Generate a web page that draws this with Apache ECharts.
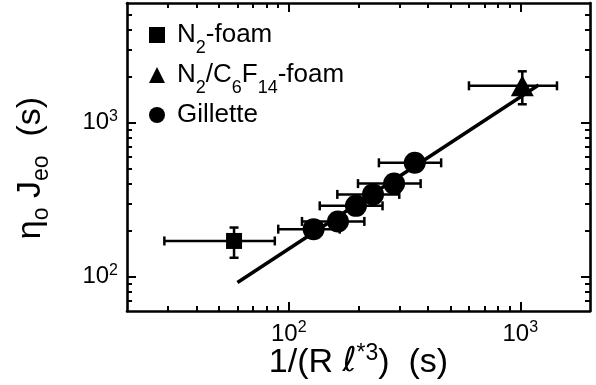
<!DOCTYPE html>
<html>
<head>
<meta charset="utf-8">
<script src="https://cdn.jsdelivr.net/npm/echarts@6/dist/echarts.min.js"></script>
<style>
  html, body { margin: 0; padding: 0; background: #fff; }
  #chart { width: 596px; height: 385px; }
</style>
</head>
<body>
<div id="chart"></div>
<script>
// values
const n2X = [58];
const n2Y = [171];
const n2XErr = [29];
const n2YErr = [38];

const fluoX = [1020];
const fluoY = [1740];
const fluoXErr = [420];
const fluoYErr = [420];

const gilX = [128, 163, 195, 231, 285, 350];
const gilY = [204, 229, 289, 343, 403, 550];
const gilXErr = [38, 49, 59, 69, 86, 105];

// fitted line (slope ~1)
const fitX = [60, 1200];
const fitY = [92, 1760];

// axis ranges and ticks
const xRange = [20, 2000];
const yRange = [60, 6000];
const xMajor = [100, 1000];
const xMinor = [30, 40, 50, 60, 70, 80, 90, 200, 300, 400, 500, 600, 700, 800, 900];
const yMajor = [100, 1000];
const yMinor = [70, 80, 90, 200, 300, 400, 500, 600, 700, 800, 900, 2000, 3000, 4000, 5000];

const FONT = 'Liberation Sans';

function rows(xs, ys, xe, ye) {
  return xs.map((x, i) => [x, ys[i], x - xe[i], x + xe[i],
    ye ? ys[i] - ye[i] : ys[i], ye ? ys[i] + ye[i] : ys[i]]);
}

function renderErrorBar(params, api) {
  const x = api.value(0), y = api.value(1);
  const cap = 4.5;
  const style = { stroke: '#000', lineWidth: 2.5 };
  const l = api.coord([api.value(2), y]);
  const r = api.coord([api.value(3), y]);
  const children = [
    { type: 'line', shape: { x1: l[0], y1: l[1], x2: r[0], y2: r[1] }, style },
    { type: 'line', shape: { x1: l[0], y1: l[1] - cap, x2: l[0], y2: l[1] + cap }, style },
    { type: 'line', shape: { x1: r[0], y1: r[1] - cap, x2: r[0], y2: r[1] + cap }, style }
  ];
  if (api.value(5) > api.value(4)) {
    const b = api.coord([x, api.value(4)]);
    const t = api.coord([x, api.value(5)]);
    children.push(
      { type: 'line', shape: { x1: b[0], y1: b[1], x2: t[0], y2: t[1] }, style },
      { type: 'line', shape: { x1: b[0] - cap, y1: b[1], x2: b[0] + cap, y2: b[1] }, style },
      { type: 'line', shape: { x1: t[0] - cap, y1: t[1], x2: t[0] + cap, y2: t[1] }, style }
    );
  }
  return { type: 'group', children };
}

const supRich = {
  sup: { fontSize: 16, fontFamily: FONT, color: '#000', padding: [0, 0, 13, 0] }
};

function logAxis(range, position, ticks, len, showLine, showLabel) {
  return {
    type: 'log',
    logBase: 10,
    position: position,
    min: range[0],
    max: range[1],
    axisLine: { show: showLine, onZero: false, lineStyle: { color: '#000', width: 2.6 } },
    axisTick: { show: true, inside: true, length: len, customValues: ticks,
      lineStyle: { color: '#000', width: 2 } },
    axisLabel: {
      show: showLabel,
      customValues: ticks,
      margin: 9,
      fontSize: 24,
      fontFamily: FONT,
      color: '#000',
      formatter: v => '10{sup|' + Math.round(Math.log10(v)) + '}',
      rich: supRich
    },
    splitLine: { show: false },
    minorTick: { show: false }
  };
}

const xBottom = logAxis(xRange, 'bottom', xMajor, 9, true, true);
xBottom.name = '1/(R {it|ℓ}{sup|*3})  (s)';
xBottom.nameLocation = 'middle';
xBottom.nameGap = 31;
xBottom.nameMoveOverlap = false;
xBottom.nameTextStyle = {
  fontSize: 34, fontFamily: FONT, color: '#000',
  rich: {
    it: { fontSize: 34, fontFamily: 'DejaVu Sans', fontStyle: 'italic', color: '#000' },
    sup: { fontSize: 23, fontFamily: FONT, color: '#000', padding: [0, 0, 18, 0] }
  }
};

const yLeft = logAxis(yRange, 'left', yMajor, 9, true, true);
yLeft.name = 'η{sub|o} J{sub|eo}  (s)';
yLeft.nameLocation = 'middle';
yLeft.nameGap = 74;
yLeft.nameMoveOverlap = false;
yLeft.nameTextStyle = {
  fontSize: 34, fontFamily: FONT, color: '#000', padding: [0, 22, 0, 0],
  rich: {
    sub: { fontSize: 23, fontFamily: FONT, color: '#000', padding: [22, 0, 0, 0] }
  }
};

const squareIcon = 'path://M0,0H10V10H0Z';
const triIcon = 'path://M5,0L10,10H0Z';

const legendText = {
  fontSize: 26, fontFamily: FONT, color: '#000',
  rich: { s: { fontSize: 18, fontFamily: FONT, color: '#000', padding: [26, 0, 0, 0] } }
};

function legendAt(top, item, fmt) {
  return {
    data: [item], formatter: fmt, top: top, left: 149, padding: 0,
    itemWidth: 30, itemHeight: 16, selectedMode: false, textStyle: legendText
  };
}

const chart = echarts.init(document.getElementById('chart'));
chart.setOption({
  animation: false,
  grid: { left: 127, right: 6, top: 3, bottom: 74, outerBoundsMode: 'none', containLabel: false },
  xAxis: [
    xBottom,
    logAxis(xRange, 'bottom', xMinor, 5, false, false),
    logAxis(xRange, 'top', xMajor, 9, true, false),
    logAxis(xRange, 'top', xMinor, 5, false, false)
  ],
  yAxis: [
    yLeft,
    logAxis(yRange, 'left', yMinor, 5, false, false),
    logAxis(yRange, 'right', yMajor, 9, true, false),
    logAxis(yRange, 'right', yMinor, 5, false, false)
  ],
  legend: [
    legendAt(22, { name: 'N2-foam', icon: squareIcon }, 'N{s|2}-foam'),
    legendAt(62, { name: 'N2/C6F14-foam', icon: triIcon }, 'N{s|2}/C{s|6}F{s|14}-foam'),
    legendAt(102, { name: 'Gillette', icon: 'circle' }, 'Gillette')
  ],
  series: [
    {
      name: 'fit', type: 'line', z: 2, showSymbol: false, silent: true,
      data: fitX.map((x, i) => [x, fitY[i]]),
      lineStyle: { color: '#000', width: 3.5 }
    },
    {
      name: 'err', type: 'custom', z: 3, renderItem: renderErrorBar,
      encode: { x: 0, y: 1 },
      data: rows(n2X, n2Y, n2XErr, n2YErr)
        .concat(rows(fluoX, fluoY, fluoXErr, fluoYErr))
        .concat(rows(gilX, gilY, gilXErr, null))
    },
    {
      name: 'N2-foam', type: 'scatter', z: 4, symbol: 'rect', symbolSize: 16,
      itemStyle: { color: '#000', opacity: 1 },
      data: n2X.map((x, i) => [x, n2Y[i]])
    },
    {
      name: 'N2/C6F14-foam', type: 'scatter', z: 4, symbol: 'triangle', symbolSize: [23, 21],
      itemStyle: { color: '#000', opacity: 1 },
      data: fluoX.map((x, i) => [x, fluoY[i]])
    },
    {
      name: 'Gillette', type: 'scatter', z: 4, symbol: 'circle', symbolSize: 22,
      itemStyle: { color: '#000', opacity: 1 },
      data: gilX.map((x, i) => [x, gilY[i]])
    }
  ]
});
</script>
</body>
</html>
